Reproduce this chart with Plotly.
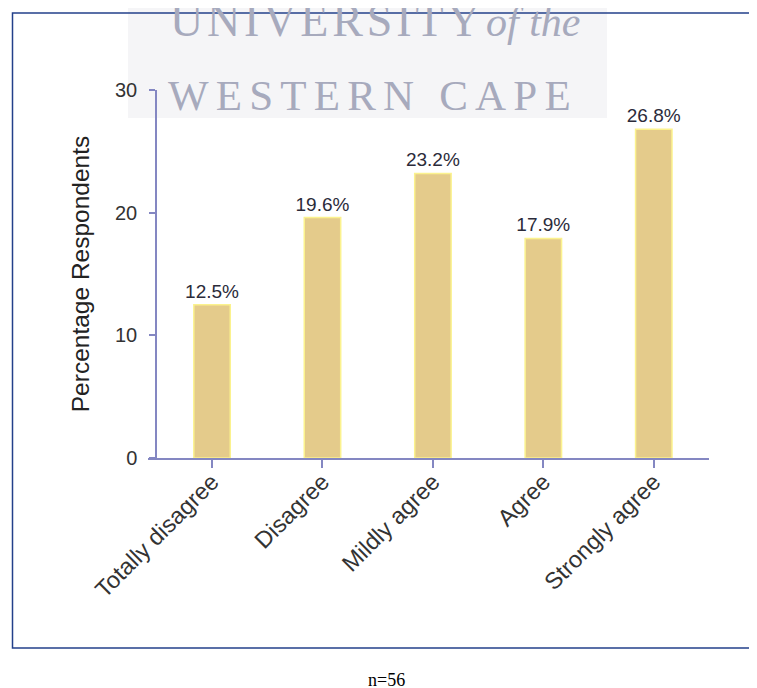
import plotly.graph_objects as go

categories = ["Totally disagree", "Disagree", "Mildly agree", "Agree", "Strongly agree"]
values = [12.5, 19.6, 23.2, 17.9, 26.8]
labels = ["12.5%", "19.6%", "23.2%", "17.9%", "26.8%"]
y_ticks = [0, 10, 20, 30]

# page has an 8px body margin; figure sits at (8, 8)
OFF = 8
W, H = 757 - OFF, 688 - OFF
L, R, T, B = 148, 709, 90, 458  # plot area in page pixels


def px(x):
    return (x - L) / (R - L)


def py(y):
    return (B - y) / (B - T)


AX = "#8487c2"

fig = go.Figure(go.Bar(
    x=categories, y=values, text=labels, textposition="outside",
    constraintext="none",
    textfont=dict(family="Liberation Sans, Arial", size=19, color="#2b2b3a"),
    marker=dict(color="#e4cb8b", line=dict(color="#fbf28e", width=1.5)),
    width=0.33, cliponaxis=False,
))

fig.update_layout(
    width=W, height=H,
    margin=dict(l=L - OFF, r=W - (R - OFF), t=T - OFF, b=H - (B - OFF), pad=0),
    paper_bgcolor="white", plot_bgcolor="white",
    showlegend=False,
    font=dict(family="Liberation Sans, Arial", color="#333333"),
    xaxis=dict(
        range=[-0.58, 4.5], showline=True, linecolor=AX, linewidth=1.5,
        ticks="outside", ticklen=8, tickcolor=AX, tickwidth=1.5,
        tickangle=-45, tickfont=dict(size=23.5, color="#333333"),
        ticklabelstandoff=-9,
        showgrid=False, zeroline=False, fixedrange=True,
    ),
    yaxis=dict(
        range=[0, 30], tickvals=y_ticks, showline=True, linecolor=AX, linewidth=1.5,
        ticks="outside", ticklen=6, tickcolor=AX, tickwidth=1.5,
        tickfont=dict(size=20, color="#333333"), ticklabelstandoff=8,
        showgrid=False, zeroline=False,
        anchor="free", position=px(156),
        title=dict(text="Percentage Respondents", standoff=17,
                   font=dict(size=24.5, color="#222222")),
    ),
)

# watermark background
fig.add_shape(type="rect", xref="paper", yref="paper",
              x0=px(128), x1=px(607), y0=py(118), y1=py(0),
              fillcolor="#f5f5f7", line=dict(width=0), layer="below")
# outer border
fig.add_shape(type="rect", xref="paper", yref="paper",
              x0=px(12.5), x1=px(770), y0=py(648), y1=py(13),
              fillcolor="rgba(0,0,0,0)", line=dict(color="#23408a", width=1.5))

wm = dict(family="Liberation Serif, Times New Roman", color="#a7aabd")
sp = "\u200a"
sp2 = sp * 2
fig.add_annotation(text=sp.join("UNIVERSITY"), xref="paper", yref="paper",
                   x=px(168), y=py(48), xanchor="left", yanchor="bottom",
                   showarrow=False, font=dict(size=46, **wm))
fig.add_annotation(text="<i>of the</i>", xref="paper", yref="paper",
                   x=px(582), y=py(47), xanchor="right", yanchor="bottom",
                   showarrow=False, font=dict(size=42, **wm))
fig.add_annotation(text=sp2.join("WESTERN") + sp2 + " " + sp2 + sp2.join("CAPE"),
                   xref="paper", yref="paper",
                   x=px(166), y=py(121), xanchor="left", yanchor="bottom",
                   showarrow=False, font=dict(size=43, **wm))

fig.add_annotation(text="n=56", xref="paper", yref="paper",
                   x=px(386), y=py(680), xanchor="center", yanchor="middle",
                   showarrow=False, font=dict(family="Liberation Serif, Times New Roman", size=18, color="#000000"))

fig.write_html("out.html")
